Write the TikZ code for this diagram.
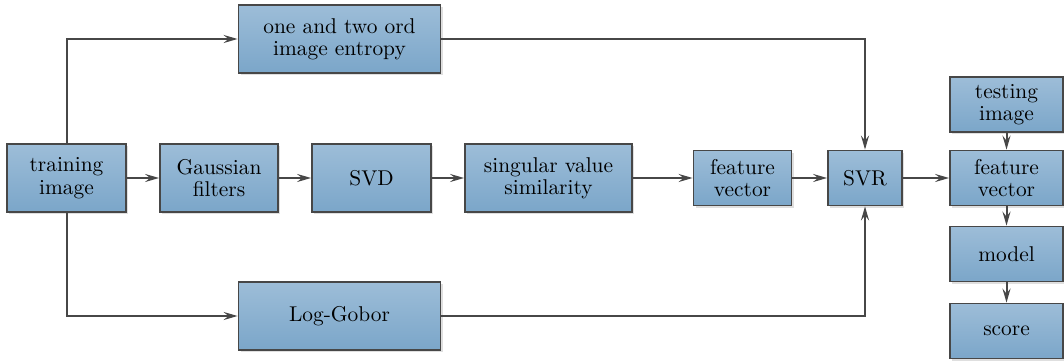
\documentclass[tikz,border=0pt]{standalone}
\usetikzlibrary{arrows.meta,shadows}
\definecolor{boxtop}{HTML}{9DBDD8}
\definecolor{boxbot}{HTML}{7BA6C9}
\definecolor{edge}{HTML}{474747}
\tikzset{
  blk/.style={draw=edge, line width=0.9pt, top color=boxtop, bottom color=boxbot,
    align=center, inner sep=1pt, font=\fontsize{10.7}{11.2}\selectfont,
    drop shadow={shadow xshift=1.2pt, shadow yshift=-1.2pt, opacity=0.25}},
  wide/.style={blk, minimum width=59.5pt, minimum height=34pt},
  small/.style={blk, minimum height=27.5pt},
  conn/.style={draw=edge, line width=1pt, -{Stealth[length=7pt,width=4pt,inset=2.5pt]}}
}
\begin{document}
\begin{tikzpicture}[x=0.5pt,y=-0.5pt]
\useasboundingbox (0,0) rectangle (1064,362);
% main row
\node[wide] (train) at (66.5,178) {training\\image};
\node[wide, minimum width=59pt] (gauss) at (219,178) {Gaussian\\filters};
\node[wide] (svd) at (371.5,178) {SVD};
\node[wide, minimum width=83.5pt] (sing) at (548.5,178) {singular value\\similarity};
\node[small, minimum width=49pt] (featl) at (742.5,178) {feature\\vector};
\node[small, minimum width=37pt] (svr) at (865,178) {SVR};
% upper and lower branches
\node[wide, minimum width=101pt] (entropy) at (339.5,39) {one and two ord\\image entropy};
\node[wide, minimum width=101pt] (gabor) at (339.5,316) {Log-Gobor};
% testing column
\node[small, minimum width=56.5pt] (test) at (1006.5,104.5) {testing\\image};
\node[small, minimum width=56.5pt] (featr) at (1006.5,178) {feature\\vector};
\node[small, minimum width=56.5pt] (model) at (1006.5,254) {model};
\node[small, minimum width=56.5pt] (score) at (1006.5,331) {score};
% connectors
\draw[conn] (train) -- (gauss);
\draw[conn] (gauss) -- (svd);
\draw[conn] (svd) -- (sing);
\draw[conn] (sing) -- (featl);
\draw[conn] (featl) -- (svr);
\draw[conn] (svr) -- (featr);
\draw[conn] (train.north) |- (entropy.west);
\draw[conn] (train.south) |- (gabor.west);
\draw[conn] (entropy.east) -| (svr.north);
\draw[conn] (gabor.east) -| (svr.south);
\draw[conn] (test) -- (featr);
\draw[conn] (featr) -- (model);
\draw[conn] (model) -- (score);
\end{tikzpicture}
\end{document}
